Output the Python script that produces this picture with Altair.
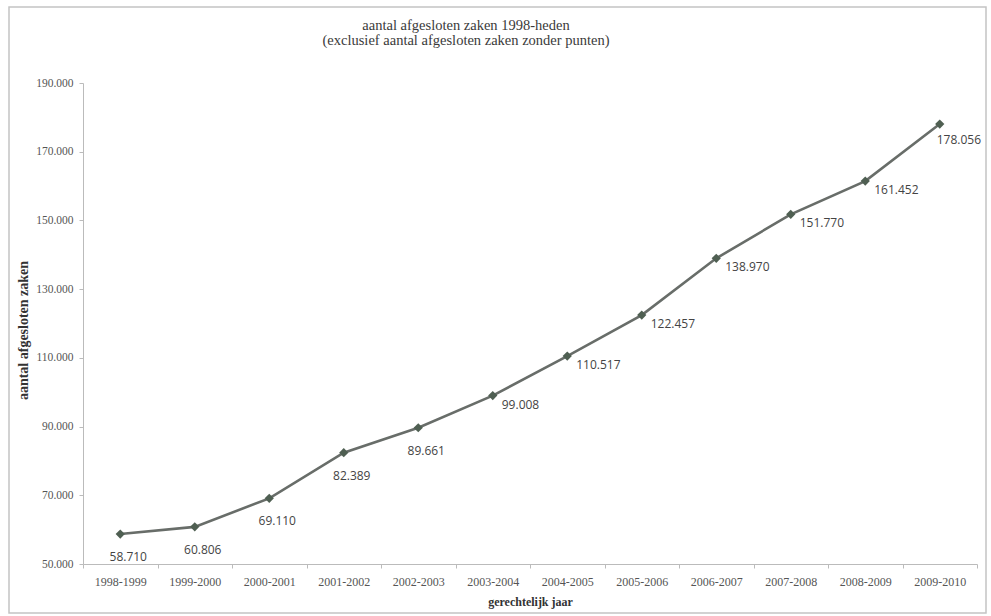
import altair as alt
import pandas as pd

years = ["1998-1999", "1999-2000", "2000-2001", "2001-2002", "2002-2003", "2003-2004",
         "2004-2005", "2005-2006", "2006-2007", "2007-2008", "2008-2009", "2009-2010"]
values = [58710, 60806, 69110, 82389, 89661, 99008, 110517, 122457, 138970, 151770, 161452, 178056]
y_ticks = [50000, 70000, 90000, 110000, 130000, 150000, 170000, 190000]

df = pd.DataFrame({"jaar": years, "zaken": values, "idx": list(range(len(years)))})

SERIF = "Liberation Serif"
SANS = "Open Sans"

x_enc = alt.X("jaar:N", sort=years,
              scale=alt.Scale(paddingInner=0, paddingOuter=0),
              axis=alt.Axis(title="gerechtelijk jaar", labelAngle=0, labelFont=SERIF,
                            labelFontSize=12, labelColor="#555555", tickBand="extent",
                            tickSize=4, tickColor="#bbbbbb", domainColor="#bbbbbb",
                            labelPadding=8, titleFont=SERIF, titleFontSize=12,
                            titleFontWeight="bold", titleColor="#333333",
                            titleY=37, titleBaseline="middle"))
y_enc = alt.Y("zaken:Q",
              scale=alt.Scale(domain=[50000, 190000], nice=False, zero=False),
              axis=alt.Axis(title="aantal afgesloten zaken", values=y_ticks,
                            labelExpr="replace(format(datum.value, ','), ',', '.')",
                            labelFont=SERIF, labelFontSize=11.5, labelColor="#555555",
                            tickSize=4, tickColor="#bbbbbb", domainColor="#bbbbbb",
                            labelPadding=6, grid=False, titleFont=SERIF,
                            titleFontSize=14, titleFontWeight="bold", titleColor="#333333",
                            titleX=-60, titleY=247, titleAngle=-90,
                            titleAlign="center", titleBaseline="middle"))

base = alt.Chart(df).encode(x=x_enc, y=y_enc)

line = base.mark_line(color="#686d69", strokeWidth=2.6)
points = base.mark_point(shape="diamond", filled=True, size=85, color="#4f5f52", opacity=1)

label_txt = "replace(format(datum.zaken, ','), ',', '.')"
text_style = dict(font=SANS, fontSize=12, color="#444444", baseline="middle")
labels_below = base.transform_filter("datum.idx < 5").transform_calculate(
    lab=label_txt).mark_text(align="center", dx=8, dy=23, **text_style).encode(text="lab:N")
labels_right = base.transform_filter("datum.idx >= 5 && datum.idx < 11").transform_calculate(
    lab=label_txt).mark_text(align="left", dx=9, dy=9, **text_style).encode(text="lab:N")
labels_last = base.transform_filter("datum.idx == 11").transform_calculate(
    lab=label_txt).mark_text(align="left", dx=-3, dy=16, **text_style).encode(text="lab:N")

frame = alt.Chart(pd.DataFrame({"f": [0]})).mark_rect(
    fill=None, stroke="#c4c4c4", strokeWidth=1.5).encode(
    x=alt.value(-74), x2=alt.value(903), y=alt.value(-76), y2=alt.value(530))

chart = alt.layer(frame, line, points, labels_below, labels_right, labels_last).properties(
    width=894, height=481,
    title=alt.TitleParams(
        text=["aantal afgesloten zaken 1998-heden",
              "(exclusief aantal afgesloten zaken zonder punten)"],
        font=SERIF, fontSize=14.5, fontWeight="normal", color="#3a3a3a",
        anchor="middle", frame="group", dx=-64, offset=0, dy=42, lineHeight=15),
    autosize=alt.AutoSizeParams(type="none"),
    padding={"left": 83, "top": 83, "right": 14, "bottom": 52},
    background="white",
).configure_view(stroke=None)

chart.save("out.html", embed_options={"renderer": "svg", "actions": False})
